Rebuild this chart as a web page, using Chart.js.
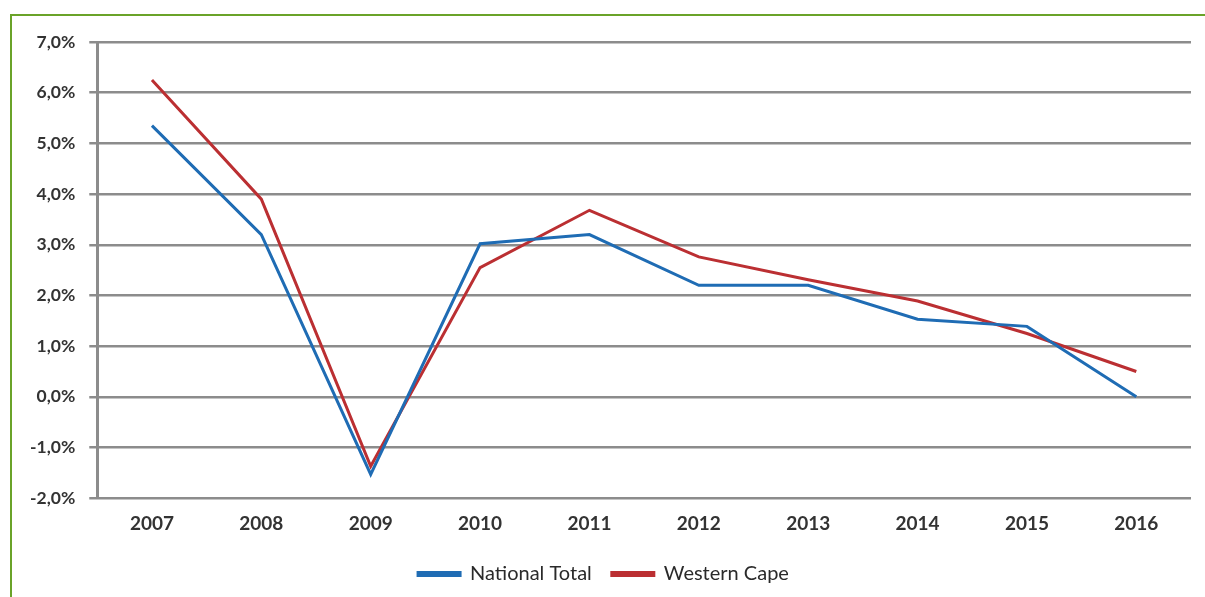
<!DOCTYPE html>
<html>
<head>
<meta charset="utf-8">
<script src="https://cdn.jsdelivr.net/npm/chart.js@4.4.1/dist/chart.umd.min.js"></script>
<style>
  html, body { margin: 0; padding: 0; background: #fff; }
  #frame {
    position: absolute; left: 10px; top: 14px;
    width: 1195px; height: 583px;
    border-top: 2px solid #6aa329; border-left: 2px solid #6aa329;
  }
  #growthChart { display: block; }
</style>
</head>
<body>
<div id="frame"><canvas id="growthChart" width="1193" height="581"></canvas></div>
<script>
// annual growth, percent
const years = ['2007', '2008', '2009', '2010', '2011', '2012', '2013', '2014', '2015', '2016'];
const nationalTotal = [5.35, 3.2, -1.53, 3.02, 3.2, 2.2, 2.2, 1.53, 1.39, 0.0];
const westernCape = [6.25, 3.9, -1.37, 2.55, 3.68, 2.76, 2.31, 1.89, 1.25, 0.5];

const gridGrey = '#8c8c8c';
const family = 'Lato, "Open Sans", sans-serif';
const xFont = { family: family, size: 19, weight: 'bold' };
const yFont = { family: family, size: 17.5, weight: 'bold' };
const legendFont = { family: family, size: 20, weight: 'normal' };

const data = {
  labels: years,
  datasets: [
    {
      label: 'National Total',
      data: nationalTotal,
      borderColor: '#1f6cb4',
      backgroundColor: '#1f6cb4',
      borderWidth: 3,
      pointRadius: 0,
      tension: 0
    },
    {
      label: 'Western Cape',
      data: westernCape,
      borderColor: '#bb2f32',
      backgroundColor: '#bb2f32',
      borderWidth: 3,
      pointRadius: 0,
      tension: 0
    }
  ]
};

const config = {
  type: 'line',
  data: data,
  options: {
    responsive: false,
    animation: false,
    layout: { padding: { left: 4, right: 14, top: 26, bottom: 3 } },
    plugins: {
      legend: {
        position: 'bottom',
        labels: {
          color: '#2a2a2a',
          font: legendFont,
          boxWidth: 42,
          boxHeight: 3,
          padding: 20
        }
      },
      tooltip: { enabled: false }
    },
    scales: {
      x: {
        offset: true,
        grid: { display: false },
        border: { display: false },
        ticks: { color: '#333', font: xFont, padding: 6 },
        // a little extra room under the year labels
        afterFit: scale => { scale.height += 3; }
      },
      y: {
        min: -2,
        max: 7,
        ticks: {
          stepSize: 1,
          color: '#333',
          font: yFont,
          padding: 14,
          callback: v => v.toFixed(1).replace('.', ',') + '%'
        },
        grid: { color: gridGrey, lineWidth: 2.5, tickLength: 8 },
        border: { color: gridGrey, width: 3 }
      }
    }
  }
};

const lineChart = new Chart(document.getElementById('growthChart'), config);
</script>
</body>
</html>
